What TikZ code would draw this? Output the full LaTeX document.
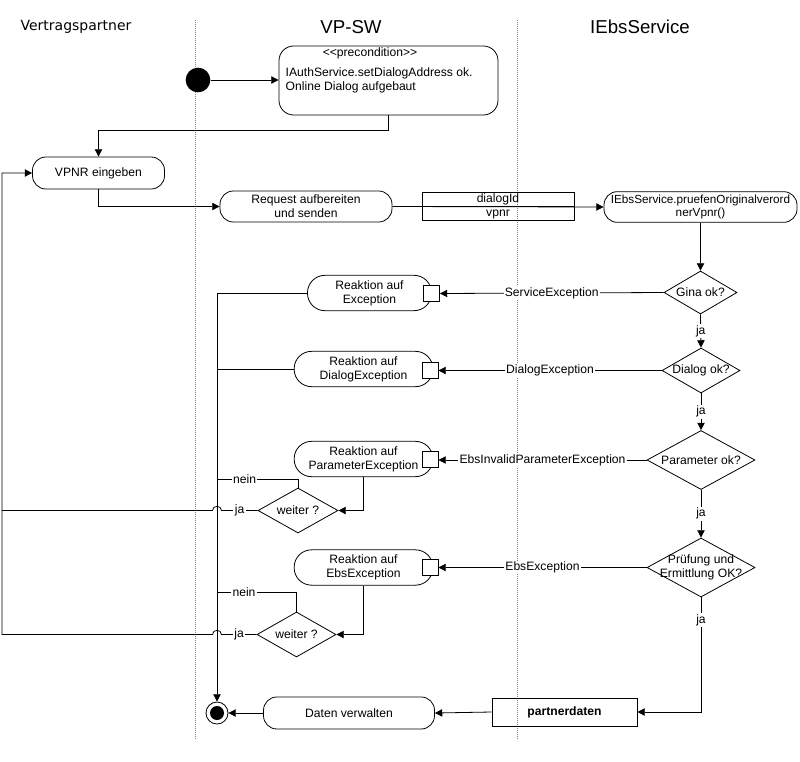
\documentclass[tikz,border=0pt]{standalone}
\usepackage{fontspec}
\setmainfont{Liberation Sans}
\newfontfamily\titlefont{DejaVu Sans}
\usetikzlibrary{shapes.geometric,arrows.meta}
\begin{document}
\begin{tikzpicture}[x=0.75pt,y=-0.75pt,
  every node/.style={font=\fontsize{9.1}{10.6}\selectfont},
  conn/.style={line width=0.6pt},
  arr/.style={conn,-{Triangle[length=5.5pt,width=5.5pt]}},
  act/.style={draw,line width=0.6pt,rounded corners=10pt,align=center,inner sep=0pt},
  stad/.style={draw,line width=0.6pt,rounded corners=13pt,align=center,inner sep=0pt,minimum height=26.5pt},
  pinbox/.style={draw,line width=0.6pt,fill=white,minimum width=12pt,minimum height=11.5pt,inner sep=0pt},
  dec/.style={draw,diamond,line width=0.6pt,inner sep=0pt},
  lbl/.style={fill=white,inner sep=1pt},
  lane/.style={gray,line width=0.6pt,dash pattern=on 0.75pt off 0.75pt},
  obj/.style={draw,line width=0.6pt,inner sep=0pt}
]
\useasboundingbox (0,0) rectangle (800,761);

% lanes and titles
\draw[lane] (195,20) -- (195,740);
\draw[lane] (517,20) -- (517,740);
\node (t1) at (76,27) {\titlefont\fontsize{10.5}{12}\selectfont Vertragspartner};
\node (t2) at (351,27) {\fontsize{14}{16}\selectfont VP-SW};
\node (t3) at (640,27) {\fontsize{14}{16}\selectfont IEbsService};

% start and precondition
\node[circle,fill=black,minimum size=18.5pt,inner sep=0pt] (start) at (198,80) {};
\node[act,rounded corners=11pt,minimum width=164.25pt,minimum height=51.75pt] (pre) at (388.5,80.5) {};
\node (pretitle) at (370,53) {<\kern0pt<precondition>\kern0pt>};
\node[anchor=west,align=left] (pretext) at (281,80) {IAuthService.setDialogAddress ok.\\Online Dialog aufgebaut};

% main actions
\node[act,minimum width=99pt,minimum height=24pt] (vpnr) at (98.5,173) {VPNR eingeben};
\node[act,minimum width=129pt,minimum height=23.25pt] (req) at (306,206.5) {Request aufbereiten\\und senden};
\node[obj,minimum width=114pt,minimum height=10.5pt,text height=6.3pt,text depth=1.4pt] (dlg) at (498,199.5) {dialogId};
\node[obj,minimum width=114pt,minimum height=10.5pt,text height=6.3pt,text depth=1.4pt] (vp) at (498,213.5) {vpnr};
\node[act,minimum width=144.75pt,minimum height=23pt,font=\fontsize{8.8}{10.4}\selectfont] (ebs) at (700.5,207) {IEbsService.pruefenOriginalverord\\nerVpnr()};

% decisions
\node[dec,minimum width=54.75pt,minimum height=32.25pt,label={center:Gina ok?}] (gina) at (700.5,292.5) {};
\node[dec,minimum width=58.5pt,minimum height=33.75pt,label={center:Dialog ok?}] (dialog) at (701,370.5) {};
\node[dec,minimum width=81pt,minimum height=44.25pt,label={center:Parameter ok?}] (param) at (701,460) {};
\node[dec,minimum width=81pt,minimum height=44.25pt,label={[align=center]center:Prüfung und\\Ermittlung OK?}] (prue) at (701,567.5) {};

% reaction boxes
\node[stad,minimum width=93pt] (exc) at (369.5,293) {Reaktion auf\\Exception};
\node[stad,minimum width=104pt] (dexc) at (363.5,369) {Reaktion auf\\DialogException};
\node[stad,minimum width=104pt] (pexc) at (363.5,459) {Reaktion auf\\ParameterException};
\node[stad,minimum width=104pt] (eexc) at (363.5,567.5) {Reaktion auf\\EbsException};
\node[pinbox] (pin1) at (431.5,293.5) {};
\node[pinbox] (pin2) at (430,370.5) {};
\node[pinbox] (pin3) at (430,459.5) {};
\node[pinbox] (pin4) at (430,567.5) {};

% weiter decisions
\node[dec,minimum width=60pt,minimum height=33.75pt,label={center:weiter ?}] (w1) at (298,510.5) {};
\node[dec,minimum width=59.25pt,minimum height=33.75pt,label={center:weiter ?}] (w2) at (296.5,634.5) {};

% end part
\node[obj,minimum width=108.75pt,minimum height=21pt,font=\fontsize{9.1}{10.6}\selectfont\bfseries] (partner) at (564.5,712) {partnerdaten};
\node[act,minimum width=128.25pt,minimum height=24pt] (daten) at (349,713) {Daten verwalten};
\node[circle,draw,line width=0.6pt,fill=white,minimum size=16.5pt,inner sep=0pt] (final) at (217,713) {};
\fill (final.center) circle (7);

\coordinate (j1) at (217,293);
\coordinate (l1) at (2,510.5);

% connectors
\draw[arr] (start) -- (pre.west |- start);
\draw[arr] (pre.south) -- ++(0,15) -| (vpnr.north);
\draw[arr] (vpnr.south) |- (req.west);
\draw[arr] (req.east) -- (ebs.west);
\draw[arr] (ebs.south) -- (gina.north);

\draw[arr] (gina.west) -- node[lbl]{ServiceException} (pin1.east);
\draw[arr] (gina.south) -- node[lbl]{ja} (dialog.north);
\draw[arr] (dialog.west) -- node[lbl]{DialogException} (pin2.east |- dialog.west);
\draw[arr] (dialog.south) -- node[lbl]{ja} (param.north);
\draw[arr] (param.west) -- node[lbl]{EbsInvalidParameterException} (pin3.east |- param.west);
\draw[arr] (param.south) -- node[lbl]{ja} (prue.north);
\draw[arr] (prue.west) -- node[lbl]{EbsException} (pin4.east);

\draw[conn] (exc.west) -- (j1);
\draw[conn] (dexc.west) -- (dexc.west -| j1);
\draw[arr] (j1) -- (final.north);

\draw[arr] (pexc.south) |- (w1.east);
\draw[arr] (eexc.south) |- (w2.east);
\draw[conn] (w1.north) |- node[lbl,pos=0.83]{nein} (217,479);
\draw[conn] (w2.north) |- node[lbl,pos=0.83]{nein} (217,592);

\draw[arr] (w1.west) -- node[lbl]{ja} (221.5,510.5) .. controls (221.5,505) and (212.5,505) .. (212.5,510.5) -- (l1) |- (vpnr.west);
\draw[conn] (w2.west) -- node[lbl]{ja} (221.5,634.5) .. controls (221.5,629) and (212.5,629) .. (212.5,634.5) -- (2,634.5) -- (l1);

\draw[arr] (prue.south) |- node[lbl,pos=0.1]{ja} (partner.east);
\draw[arr] (partner.west) -- (daten.east);
\draw[arr] (daten.west) -- (final.east);
\end{tikzpicture}
\end{document}
